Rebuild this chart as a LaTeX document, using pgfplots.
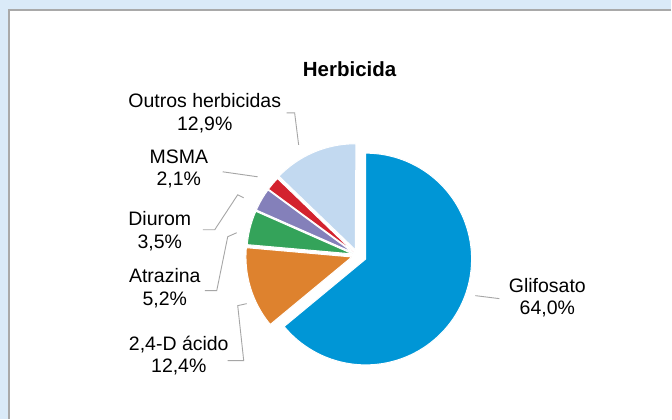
\documentclass[border=0pt]{standalone}
\usepackage{pgfplots}
\pgfplotsset{compat=1.18}
\usepackage{fontspec}
\setmainfont{Liberation Sans}
\definecolor{bgblue}{HTML}{DAEAF8}
\definecolor{panelgray}{HTML}{A9A9A9}
\definecolor{leadgray}{HTML}{A6A6A6}
\definecolor{cGlif}{HTML}{0096D6}
\definecolor{cDois}{HTML}{DE822E}
\definecolor{cAtra}{HTML}{34A35A}
\definecolor{cDiur}{HTML}{8480BA}
\definecolor{cMSMA}{HTML}{D3222E}
\definecolor{cOutr}{HTML}{C2D9F0}
\def\cx{358}
\def\cy{255.5}
\def\R{106}
\def\cum{0}
% #1 share (%), #2 colour, #3 explosion (px)
\newcommand\pieslice[3]{%
  \pgfmathsetmacro\aS{90-3.6*\cum}%
  \pgfmathsetmacro\aE{90-3.6*(\cum+#1)}%
  \pgfmathsetmacro\aM{(\aS+\aE)/2}%
  \pgfmathsetmacro\ox{\cx+#3*cos(\aM)}%
  \pgfmathsetmacro\oy{\cy-#3*sin(\aM)}%
  \pgfmathsetmacro\newcum{\cum+#1}\xdef\cum{\newcum}%
  \edef\tmp{\noexpand\addplot[fill=#2, draw=white, line width=1pt, domain=\aE:\aS, samples=90, variable=\noexpand\t] ({\ox+\R*cos(\noexpand\t)},{\oy-\R*sin(\noexpand\t)}) -- (axis cs:\ox,\oy) -- cycle;}\tmp
}
\begin{document}
\begin{tikzpicture}
\begin{axis}[
  width=672pt, height=419pt, scale only axis,
  xmin=0, xmax=672, ymin=0, ymax=419, y dir=reverse,
  hide axis, clip=false,
  axis background/.style={fill=bgblue},
]
\fill[white] (axis cs:9,10) rectangle (axis cs:672,419);
\draw[panelgray, line width=1.6pt] (axis cs:9,419) -- (axis cs:9,10) -- (axis cs:672,10);

\pieslice{64.0}{cGlif}{9}
\pieslice{12.4}{cDois}{6}
\pieslice{5.2}{cAtra}{5}
\pieslice{3.5}{cDiur}{5}
\pieslice{2.1}{cMSMA}{5}
\pieslice{12.9}{cOutr}{6}

% leader lines
\draw[leadgray, line width=0.9pt] (axis cs:476,296) -- (axis cs:500,299);
\draw[leadgray, line width=0.9pt] (axis cs:287,113) -- (axis cs:295,113) -- (axis cs:299,145);
\draw[leadgray, line width=0.9pt] (axis cs:223,172) -- (axis cs:258,177);
\draw[leadgray, line width=0.9pt] (axis cs:203,230) -- (axis cs:215,230) -- (axis cs:238,195) -- (axis cs:244,198);
\draw[leadgray, line width=0.9pt] (axis cs:205,291) -- (axis cs:217,291) -- (axis cs:228,237) -- (axis cs:237,233);
\draw[leadgray, line width=0.9pt] (axis cs:228,361) -- (axis cs:244,361) -- (axis cs:238,306) -- (axis cs:247,304);

% labels
\node[font=\fontsize{20.5}{24}\selectfont\bfseries] at (axis cs:350,69) {Herbicida};
\begin{scope}[every node/.style={align=center, font=\fontsize{19.5}{22.5}\selectfont}]
\node at (axis cs:548,298) {Glifosato\\64,0\%};
\node at (axis cs:205,113.5) {Outros herbicidas\\12,9\%};
\node at (axis cs:179,169) {MSMA\\2,1\%};
\node at (axis cs:160,231.5) {Diurom\\3,5\%};
\node at (axis cs:165,288.5) {Atrazina\\5,2\%};
\node at (axis cs:179,356) {2,4-D ácido\\12,4\%};
\end{scope}
\end{axis}
\end{tikzpicture}
\end{document}
